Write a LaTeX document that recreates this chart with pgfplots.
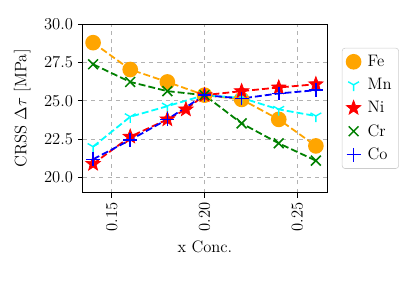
\documentclass[border=0pt]{standalone}
\usepackage{pgfplots}
\pgfplotsset{compat=1.18}
\usetikzlibrary{plotmarks}
\definecolor{mplorange}{RGB}{255,165,0}
\definecolor{mplgreen}{RGB}{0,128,0}
\definecolor{mplcyan}{RGB}{0,255,255}
\definecolor{mplblue}{RGB}{0,0,255}
\definecolor{mplred}{RGB}{255,0,0}
\pgfdeclareplotmark{fstar}{%
  \pgfpathmoveto{\pgfpointpolar{90}{\pgfplotmarksize}}%
  \pgfpathlineto{\pgfpointpolar{126}{0.42\pgfplotmarksize}}%
  \pgfpathlineto{\pgfpointpolar{162}{\pgfplotmarksize}}%
  \pgfpathlineto{\pgfpointpolar{198}{0.42\pgfplotmarksize}}%
  \pgfpathlineto{\pgfpointpolar{234}{\pgfplotmarksize}}%
  \pgfpathlineto{\pgfpointpolar{270}{0.42\pgfplotmarksize}}%
  \pgfpathlineto{\pgfpointpolar{306}{\pgfplotmarksize}}%
  \pgfpathlineto{\pgfpointpolar{342}{0.42\pgfplotmarksize}}%
  \pgfpathlineto{\pgfpointpolar{18}{\pgfplotmarksize}}%
  \pgfpathlineto{\pgfpointpolar{54}{0.42\pgfplotmarksize}}%
  \pgfpathclose
  \pgfusepathqfillstroke}
\begin{document}
\begin{tikzpicture}[x=0.72bp,y=0.72bp]
\path[use as bounding box] (-82.7,-89.3) rectangle (337.3,192.7);
\begin{axis}[
  at={(0,0)}, anchor=south west,
  scale only axis,
  width=175.9bp, height=121.5bp,
  xmin=0.1344, xmax=0.266,
  ymin=19.0, ymax=30.0,
  xtick={0.15,0.20,0.25},
  ytick={20,22.5,25,27.5,30},
  xticklabel style={rotate=90, anchor=east, /pgf/number format/.cd, fixed, fixed zerofill, precision=2},
  yticklabel style={/pgf/number format/.cd, fixed, fixed zerofill, precision=1},
  scaled x ticks=false,
  tick align=outside,
  xtick pos=bottom, ytick pos=left,
  major tick length=3.5pt,
  tick style={black, line width=0.6pt},
  axis line style={line width=0.6pt},
  grid=major,
  grid style={gray!60, dashed, line width=0.6pt},
  xlabel={x Conc.},
  ylabel={CRSS $\Delta\tau$ [MPa]},
  xlabel style={at={(axis description cs:0.5,-0.322)}, anchor=center},
  ylabel style={at={(axis description cs:-0.248,0.5)}, anchor=center},
  tick label style={font=\fontsize{12}{14}\selectfont},
  label style={font=\fontsize{12}{14}\selectfont},
  legend style={at={(1.061,0.5)}, anchor=west, draw=black!20, rounded corners=2pt, font=\fontsize{12}{14}\selectfont, row sep=3pt, inner sep=2pt, inner ysep=3pt, inner xsep=3pt,
    /tikz/every odd column/.append style={column sep=3pt}},
  legend cell align=left,
  legend image code/.code={\path[#1] plot coordinates {(0.3cm,0cm)};},
  every axis plot/.append style={line width=1.3pt, dash pattern=on 5pt off 2.2pt},
]
\addplot[forget plot, color=mplorange, mark=*, mark size=5pt, mark options={solid}] coordinates {
(0.14,28.78) (0.16,27.03) (0.18,26.22) (0.20,25.36) (0.22,25.08) (0.24,23.78) (0.26,22.05)};
\addplot[forget plot, color=mplcyan, mark=Mercedes star flipped, mark size=4.5pt, mark options={solid, line width=1pt}] coordinates {
(0.14,22.0) (0.16,23.95) (0.18,24.64) (0.20,25.36) (0.22,25.18) (0.24,24.43) (0.26,24.0)};
\addplot[forget plot, color=mplred, mark=fstar, mark size=5.5pt, mark options={solid, line width=0.5pt}] coordinates {
(0.14,20.88) (0.16,22.65) (0.18,23.78) (0.19,24.43) (0.20,25.36) (0.22,25.62) (0.24,25.86) (0.26,26.07)};
\addplot[forget plot, color=mplgreen, mark=x, mark size=5pt, mark options={solid, line width=1.1pt}] coordinates {
(0.14,27.37) (0.16,26.22) (0.18,25.62) (0.20,25.36) (0.22,23.52) (0.24,22.22) (0.26,21.09)};
\addplot[forget plot, color=mplblue, mark=+, mark size=5pt, mark options={solid, line width=1.1pt}] coordinates {
(0.14,21.18) (0.16,22.44) (0.18,23.78) (0.20,25.36) (0.22,25.14) (0.24,25.47) (0.26,25.68)};
\addlegendimage{color=mplorange, mark=*, mark size=5pt, mark options={solid}}
\addlegendentry{Fe}
\addlegendimage{color=mplcyan, mark=Mercedes star flipped, mark size=4.5pt, mark options={solid, line width=1pt}}
\addlegendentry{Mn}
\addlegendimage{color=mplred, mark=fstar, mark size=5.5pt, mark options={solid, line width=0.5pt}}
\addlegendentry{Ni}
\addlegendimage{color=mplgreen, mark=x, mark size=5pt, mark options={solid, line width=1.1pt}}
\addlegendentry{Cr}
\addlegendimage{color=mplblue, mark=+, mark size=5pt, mark options={solid, line width=1.1pt}}
\addlegendentry{Co}
\end{axis}
\end{tikzpicture}
\end{document}
